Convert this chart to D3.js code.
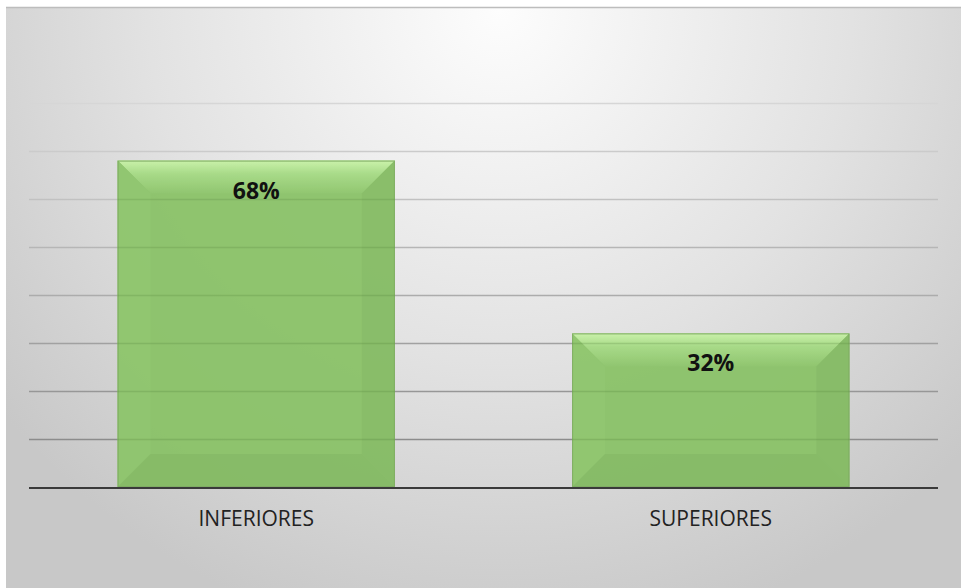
<!DOCTYPE html>
<html>
<head>
<meta charset="utf-8">
<script src="https://cdn.jsdelivr.net/npm/d3@7"></script>
<style>
  body { margin: 0; background: #fff; }
  svg { display: block; }
</style>
</head>
<body>
<div id="chart"></div>
<script>
// data
const categories = ['INFERIORES', 'SUPERIORES'];
const values = [68, 32];
const tickValues = [0, 10, 20, 30, 40, 50, 60, 70, 80];

const width = 966, height = 588;
const margin = {left: 29, right: 28, top: 103, bottom: 101};

const svg = d3.select('#chart').append('svg')
    .attr('width', width)
    .attr('height', height);

const defs = svg.append('defs');

// background gradient (light at top centre, grey at the edges)
const bg = defs.append('radialGradient')
    .attr('id', 'bg')
    .attr('gradientUnits', 'userSpaceOnUse')
    .attr('cx', 500).attr('cy', 10).attr('r', 640);
bg.append('stop').attr('offset', '0%').attr('stop-color', '#fdfdfd');
bg.append('stop').attr('offset', '55%').attr('stop-color', '#e2e2e2');
bg.append('stop').attr('offset', '100%').attr('stop-color', '#c8c8c8');

svg.append('rect')
    .attr('x', 6).attr('y', 7)
    .attr('width', 955).attr('height', height - 7)
    .attr('fill', 'url(#bg)');
svg.append('line')
    .attr('x1', 6).attr('x2', 961).attr('y1', 7.5).attr('y2', 7.5)
    .attr('stroke', '#bdbdbd').attr('stroke-width', 1.5);

const x = d3.scaleBand()
    .domain(categories)
    .range([margin.left, width - margin.right])
    .paddingInner(0.39)
    .paddingOuter(0.195);

const y = d3.scaleLinear()
    .domain([0, 80])
    .range([height - margin.bottom, margin.top]);

const gridColor = d3.scaleLinear()
    .domain([80, 10])
    .range(['#d6d6d6', '#8c8c8c']);

// gridlines
svg.append('g')
  .selectAll('line')
  .data(tickValues.filter(d => d > 0))
  .enter().append('line')
    .attr('x1', margin.left)
    .attr('x2', width - margin.right)
    .attr('y1', d => Math.round(y(d)) + 0.5)
    .attr('y2', d => Math.round(y(d)) + 0.5)
    .attr('stroke', d => gridColor(d))
    .attr('stroke-width', 1.6);

// bars with a bevel look
const bev = 33;
const bars = svg.append('g')
  .selectAll('g')
  .data(values)
  .enter().append('g')
    .attr('opacity', 0.93);

bars.append('rect')
    .attr('x', (d, i) => x(categories[i]))
    .attr('y', d => y(d))
    .attr('width', x.bandwidth())
    .attr('height', d => y(0) - y(d))
    .attr('fill', '#89c266');

function facet(d, i, side) {
  const x0 = x(categories[i]), x1 = x0 + x.bandwidth();
  const y0 = y(d), y1 = y(0);
  const b = Math.min(bev, (y1 - y0) / 2);
  const p = {
    top: [[x0, y0], [x1, y0], [x1 - b, y0 + b], [x0 + b, y0 + b]],
    left: [[x0, y0], [x0 + b, y0 + b], [x0 + b, y1 - b], [x0, y1]],
    right: [[x1, y0], [x1, y1], [x1 - b, y1 - b], [x1 - b, y0 + b]],
    bottom: [[x0, y1], [x0 + b, y1 - b], [x1 - b, y1 - b], [x1, y1]]
  }[side];
  return 'M' + p.join('L') + 'Z';
}

const topGrad = defs.append('linearGradient')
    .attr('id', 'topFacet').attr('x1', 0).attr('y1', 0).attr('x2', 0).attr('y2', 1);
topGrad.append('stop').attr('offset', '0%').attr('stop-color', '#c8f3a6');
topGrad.append('stop').attr('offset', '40%').attr('stop-color', '#a4da82');
topGrad.append('stop').attr('offset', '100%').attr('stop-color', '#8bc468');

bars.append('path').attr('d', (d, i) => facet(d, i, 'top')).attr('fill', 'url(#topFacet)');
bars.append('path').attr('d', (d, i) => facet(d, i, 'left')).attr('fill', '#8cc569');
bars.append('path').attr('d', (d, i) => facet(d, i, 'right')).attr('fill', '#83bb61');
bars.append('path').attr('d', (d, i) => facet(d, i, 'bottom')).attr('fill', '#82ba60');

bars.append('rect')
    .attr('x', (d, i) => x(categories[i]) + 0.5)
    .attr('y', d => y(d) + 0.5)
    .attr('width', x.bandwidth() - 1)
    .attr('height', d => y(0) - y(d) - 1)
    .attr('fill', 'none')
    .attr('stroke', '#7aab5c')
    .attr('stroke-width', 1);

// gridlines faintly visible through the bars
svg.append('g')
  .selectAll('line')
  .data(d3.cross(values.map((v, i) => i), tickValues.filter(d => d > 0)).filter(([i, t]) => t < values[i]))
  .enter().append('line')
    .attr('x1', ([i]) => x(categories[i]))
    .attr('x2', ([i]) => x(categories[i]) + x.bandwidth())
    .attr('y1', ([, t]) => Math.round(y(t)) + 0.5)
    .attr('y2', ([, t]) => Math.round(y(t)) + 0.5)
    .attr('stroke', '#5f8f48')
    .attr('stroke-opacity', 0.25)
    .attr('stroke-width', 1.6);

// baseline
svg.append('line')
    .attr('x1', margin.left)
    .attr('x2', width - margin.right)
    .attr('y1', y(0) + 1)
    .attr('y2', y(0) + 1)
    .attr('stroke', '#3a3a3a')
    .attr('stroke-width', 2.2);

// value labels
svg.append('g')
  .selectAll('text')
  .data(values)
  .enter().append('text')
    .attr('x', (d, i) => x(categories[i]) + x.bandwidth() / 2)
    .attr('y', d => y(d) + 38)
    .attr('text-anchor', 'middle')
    .attr('font-family', 'Open Sans, sans-serif')
    .attr('font-weight', 'bold')
    .attr('font-size', 23)
    .attr('fill', '#111')
    .text(d => d + '%');

// category axis
const xAxis = svg.append('g')
    .attr('transform', `translate(0,${y(0)})`)
    .call(d3.axisBottom(x).tickSize(0).tickPadding(24));
xAxis.select('.domain').remove();
xAxis.selectAll('text')
    .attr('font-family', 'Open Sans, sans-serif')
    .attr('font-size', 21)
    .attr('fill', '#222');
</script>
</body>
</html>
